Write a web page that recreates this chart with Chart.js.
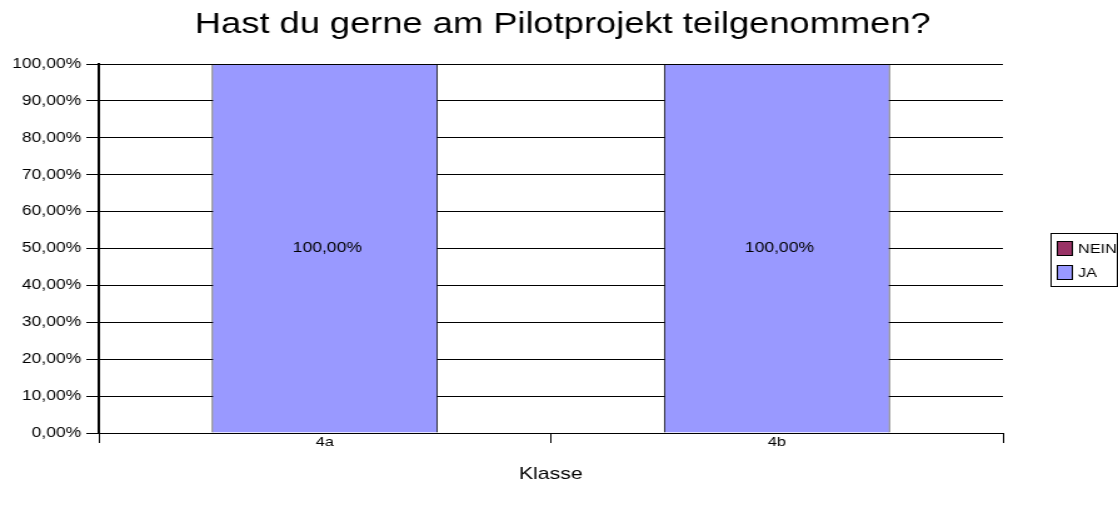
<!DOCTYPE html>
<html>
<head>
    <title>Pilotprojekt</title>
    <script src="https://cdn.jsdelivr.net/npm/chart.js"></script>
    <style>
        body { margin: 0; background: #fff; }
    </style>
</head>
<body>
    <!-- die Vorlage ist waagerecht gestreckt (ca. 1,25x), daher schmaleres Canvas -->
    <canvas id="chart" width="894" height="513" style="display:block; width:1118px; height:513px;"></canvas>

    <script>
        // Werte aus der Umfrage
        const klassen = ["4a", "4b"];
        const neinWerte = [0, 0];
        const jaWerte = [100, 100];
        const yTicks = [0, 10, 20, 30, 40, 50, 60, 70, 80, 90, 100];

        const FONT = "'Liberation Sans', Arial, sans-serif";

        function prozent(v) {
            return v.toFixed(2).replace(".", ",") + "%";
        }

        // Titel oben
        const titel = {
            id: "titel",
            afterDraw(chart) {
                const ctx = chart.ctx;
                ctx.save();
                ctx.font = "29px " + FONT;
                ctx.fillStyle = "#000";
                ctx.textAlign = "center";
                ctx.textBaseline = "alphabetic";
                ctx.fillText("Hast du gerne am Pilotprojekt teilgenommen?", 450, 33);
                ctx.restore();
            }
        };

        // Beschriftung in der Mitte der Balken
        const balkenText = {
            id: "balkenText",
            afterDatasetsDraw(chart) {
                const ctx = chart.ctx;
                ctx.save();
                ctx.font = "14px " + FONT;
                ctx.fillStyle = "#000";
                ctx.textAlign = "center";
                ctx.textBaseline = "middle";
                chart.data.datasets.forEach((ds, i) => {
                    const meta = chart.getDatasetMeta(i);
                    meta.data.forEach((bar, j) => {
                        if (!ds.data[j]) return;
                        ctx.fillText(prozent(ds.data[j]), bar.x + 2, (bar.y + bar.base) / 2);
                    });
                });
                ctx.restore();
            }
        };

        // Legende mit Rahmen rechts, direkt am Rand
        const legendeBox = {
            id: "legendeBox",
            afterDraw(chart) {
                const ctx = chart.ctx;
                const x = 840, y = 233;
                ctx.save();
                ctx.strokeStyle = "#000";
                ctx.lineWidth = 1;
                ctx.strokeRect(x + 0.5, y + 0.5, 53, 53);
                ctx.font = "13px " + FONT;
                ctx.textBaseline = "alphabetic";
                chart.data.datasets.forEach((ds, i) => {
                    const ly = y + 8 + i * 24;
                    ctx.fillStyle = ds.backgroundColor;
                    ctx.fillRect(x + 5, ly, 13, 15);
                    ctx.strokeRect(x + 5.5, ly + 0.5, 12, 14);
                    ctx.fillStyle = "#000";
                    ctx.fillText(ds.label, x + 22, ly + 12);
                });
                ctx.restore();
            }
        };

        new Chart(document.getElementById("chart"), {
            type: "bar",
            data: {
                labels: klassen,
                datasets: [
                    { label: "NEIN", data: neinWerte, backgroundColor: "#993366", borderColor: "#000", borderWidth: 1 },
                    { label: "JA", data: jaWerte, backgroundColor: "#9999FF", borderColor: "#000", borderWidth: 1 }
                ]
            },
            options: {
                responsive: false,
                animation: false,
                layout: { padding: { left: 0, right: 92, top: 64, bottom: 0 } },
                datasets: { bar: { categoryPercentage: 0.5, barPercentage: 1 } },
                plugins: {
                    legend: { display: false },
                    tooltip: { enabled: false },
                    title: { display: false }
                },
                scales: {
                    x: {
                        stacked: true,
                        offset: true,
                        grid: { display: true, offset: true, drawOnChartArea: false, drawTicks: true, tickLength: 10, color: "#000" },
                        border: { color: "#000", width: 1 },
                        ticks: { color: "#000", font: { family: FONT, size: 13 }, padding: -8 },
                        title: {
                            display: true,
                            text: "Klasse",
                            color: "#000",
                            font: { family: FONT, size: 17 },
                            padding: { top: 0, bottom: 28 }
                        },
                        afterFit(scale) { scale.height = 80; }
                    },
                    y: {
                        stacked: true,
                        min: 0,
                        max: 100,
                        afterBuildTicks(scale) { scale.ticks = yTicks.map(v => ({ value: v })); },
                        grid: { color: "#000", lineWidth: 1, tickLength: 10 },
                        border: { color: "#000", width: 2 },
                        ticks: {
                            color: "#000",
                            font: { family: FONT, size: 14 },
                            padding: 4,
                            callback: v => prozent(v)
                        },
                        afterFit(scale) { scale.width = 79; }
                    }
                }
            },
            plugins: [titel, balkenText, legendeBox]
        });
    </script>
</body>
</html>
